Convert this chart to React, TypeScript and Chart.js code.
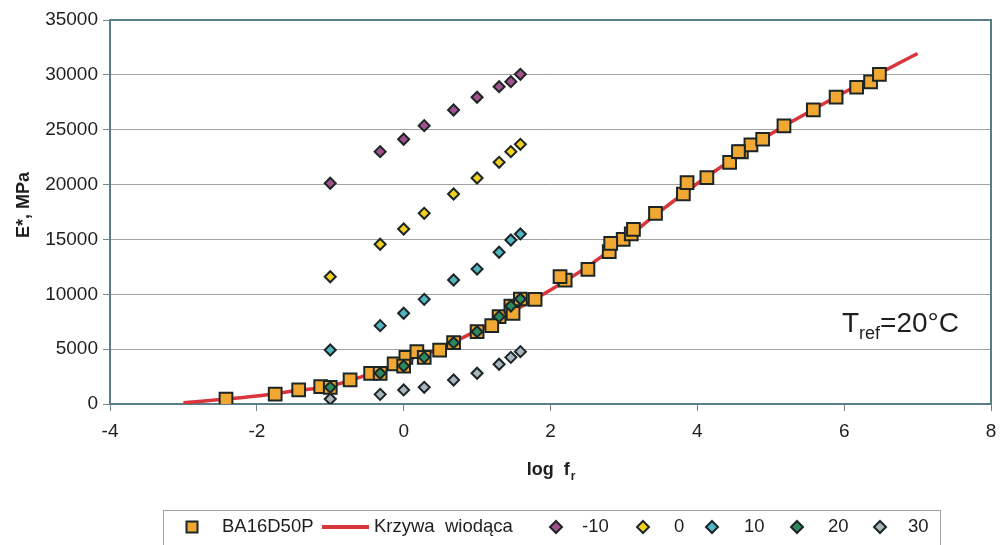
import React, { useEffect, useRef } from 'react';
import { Chart, registerables } from 'chart.js';

Chart.register(...registerables);

const FONT = '"Liberation Sans", Arial, sans-serif';
const TEXT = '#1e1e1e';
const EDGE = '#1c2626';

// log of test frequency for each temperature series
const logFreq = [-1, -0.32, 0, 0.28, 0.68, 1, 1.3, 1.46, 1.59];

// |E*| in MPa at each temperature
const tempMinus10 = [20120, 23000, 24130, 25370, 26800, 27960, 28920, 29380, 30050];
const temp0 = [11600, 14560, 15950, 17380, 19140, 20600, 22030, 23000, 23670];
const temp10 = [4920, 7140, 8270, 9540, 11300, 12300, 13830, 14950, 15500];
const temp20 = [1520, 2800, 3460, 4250, 5590, 6590, 7960, 8930, 9570];
const temp30 = [455, 880, 1280, 1520, 2190, 2800, 3620, 4250, 4770];

// shifted measurements for BA16D50P (reduced frequency)
const masterLogFr = [
  -2.42, -1.75, -1.43, -1.13, -0.73, -0.45, -0.13, 0.03, 0.18,
  -1, -0.32, 0, 0.28, 0.68, 1, 1.3, 1.46, 1.59,
  0.49, 1.2, 1.49, 1.79, 2.2, 2.51, 2.8, 2.99, 3.1,
  2.13, 2.82, 3.13, 3.43, 3.81, 4.13, 4.44, 4.6, 4.73,
  3.86, 4.56, 4.89, 5.18, 5.58, 5.89, 6.17, 6.36, 6.48,
];
const masterE = [
  455, 910, 1280, 1580, 2190, 2800, 3650, 4250, 4770,
  1520, 2800, 3460, 4250, 5590, 6590, 7960, 8930, 9570,
  4920, 7140, 8270, 9540, 11300, 12280, 13880, 15010, 15500,
  11600, 14650, 15920, 17380, 19140, 20630, 22030, 22970, 23610,
  20170, 23000, 24130, 25340, 26800, 27960, 28870, 29350, 30050,
];

// fitted master curve
const curveLogFr = [-3, -2.5, -2, -1.5, -1, -0.5, 0, 0.5, 1, 1.5, 2, 2.5, 3, 3.5, 4, 4.5, 5, 5.5, 6, 6.5, 7];
const curveE = [110, 400, 720, 1180, 1640, 2650, 3900, 5100, 6700, 8500, 10400, 12500, 14950, 17600, 20100, 22400, 24600, 26550, 28400, 30200, 31950];

const xRange = [-4, 8];
const xStep = 2;
const yRange = [0, 35000];
const yStep = 5000;

const ORANGE = '#f0a832';
const RED = '#d8363a';
const tempSeries = [
  { label: '-10', values: tempMinus10, color: '#a3508e' },
  { label: '0', values: temp0, color: '#f2d21e' },
  { label: '10', values: temp10, color: '#52b6c2' },
  { label: '20', values: temp20, color: '#2e8a5e' },
  { label: '30', values: temp30, color: '#a9b6bf' },
];

const zip = (xs: number[], ys: number[]) => xs.map((x, i) => ({ x, y: ys[i] }));

const framePlugin = {
  id: 'frame',
  beforeDatasetsDraw(chart: any) {
    const { ctx, chartArea: a } = chart;
    ctx.save();
    ctx.strokeStyle = '#5b7c89';
    ctx.lineWidth = 2;
    ctx.strokeRect(a.left, a.top, a.right - a.left, a.bottom - a.top);
    ctx.restore();
  },
};

function diamond(ctx: CanvasRenderingContext2D, cx: number, cy: number, r: number, fill: string) {
  ctx.beginPath();
  ctx.moveTo(cx, cy - r);
  ctx.lineTo(cx + r, cy);
  ctx.lineTo(cx, cy + r);
  ctx.lineTo(cx - r, cy);
  ctx.closePath();
  ctx.fillStyle = fill;
  ctx.fill();
  ctx.lineWidth = 2;
  ctx.strokeStyle = EDGE;
  ctx.stroke();
}

const textPlugin = {
  id: 'texts',
  afterDraw(chart: any) {
    const ctx: CanvasRenderingContext2D = chart.ctx;
    const a = chart.chartArea;
    ctx.save();
    ctx.fillStyle = TEXT;

    // y axis title
    ctx.save();
    ctx.translate(24, 205);
    ctx.rotate(-Math.PI / 2);
    ctx.font = `bold 18px ${FONT}`;
    ctx.textAlign = 'center';
    ctx.textBaseline = 'middle';
    ctx.fillText('E*, MPa', 0, 0);
    ctx.restore();

    // x axis title with subscript
    ctx.textBaseline = 'alphabetic';
    ctx.textAlign = 'left';
    ctx.font = `bold 18px ${FONT}`;
    const main = 'log  f';
    const wMain = ctx.measureText(main).width;
    ctx.font = `bold 12px ${FONT}`;
    const wSub = ctx.measureText('r').width;
    const cx = (a.left + a.right) / 2;
    const x0 = cx - (wMain + wSub) / 2;
    ctx.font = `bold 18px ${FONT}`;
    ctx.fillText(main, x0, 475);
    ctx.font = `bold 12px ${FONT}`;
    ctx.fillText('r', x0 + wMain + 1, 480);

    // reference temperature note
    let tx = 842;
    ctx.font = `28px ${FONT}`;
    ctx.fillText('T', tx, 332);
    tx += ctx.measureText('T').width;
    ctx.font = `18px ${FONT}`;
    ctx.fillText('ref', tx, 339);
    tx += ctx.measureText('ref').width;
    ctx.font = `28px ${FONT}`;
    ctx.fillText('=20°C', tx, 332);

    // legend
    ctx.strokeStyle = '#a0a0a0';
    ctx.lineWidth = 1;
    ctx.strokeRect(163.5, 510.5, 777, 60);
    const ly = 527;
    ctx.font = `18.5px ${FONT}`;
    ctx.textBaseline = 'middle';
    ctx.fillStyle = ORANGE;
    ctx.fillRect(186.5, ly - 5.5, 11, 11);
    ctx.strokeStyle = EDGE;
    ctx.lineWidth = 2;
    ctx.strokeRect(186.5, ly - 5.5, 11, 11);
    ctx.fillStyle = TEXT;
    ctx.fillText('BA16D50P', 222, ly);
    ctx.strokeStyle = RED;
    ctx.lineWidth = 4;
    ctx.beginPath();
    ctx.moveTo(322, ly);
    ctx.lineTo(369, ly);
    ctx.stroke();
    ctx.fillText('Krzywa  wiodąca', 374, ly);
    const dx = [556, 643, 712, 797, 880];
    const tx2 = [582, 674, 744, 828, 908];
    tempSeries.forEach((s, i) => {
      diamond(ctx, dx[i], ly, 6, s.color);
      ctx.fillStyle = TEXT;
      ctx.fillText(s.label, tx2[i], ly);
    });
    ctx.restore();
  },
};

export default function App() {
  const ref = useRef<HTMLCanvasElement | null>(null);

  useEffect(() => {
    if (!ref.current) return;
    const datasets: any[] = [
      {
        label: 'BA16D50P',
        data: zip(masterLogFr, masterE),
        pointStyle: 'rect',
        pointRadius: 9,
        backgroundColor: ORANGE,
        borderColor: EDGE,
        borderWidth: 2,
        order: 5,
      },
      {
        label: 'Krzywa wiodąca',
        data: zip(curveLogFr, curveE),
        showLine: true,
        pointRadius: 0,
        borderColor: RED,
        borderWidth: 3.5,
        tension: 0.35,
        order: 10,
      },
      ...tempSeries.map((s) => ({
        label: s.label,
        data: zip(logFreq, s.values),
        pointStyle: 'rectRot',
        pointRadius: 5.5,
        backgroundColor: s.color,
        borderColor: EDGE,
        borderWidth: 2,
        order: 1,
      })),
    ];

    const chart = new Chart(ref.current, {
      type: 'scatter',
      data: { datasets },
      options: {
        animation: false,
        responsive: false,
        devicePixelRatio: 1,
        events: [],
        layout: { padding: { left: 0, top: 20, right: 8, bottom: 0 } },
        plugins: { legend: { display: false }, tooltip: { enabled: false } },
        scales: {
          x: {
            type: 'linear',
            min: xRange[0],
            max: xRange[1],
            afterFit: (s: any) => {
              s.height = 141;
              s.paddingLeft = 0;
              s.paddingRight = 0;
            },
            ticks: {
              stepSize: xStep,
              padding: 9,
              color: TEXT,
              font: { family: FONT, size: 19 },
              callback: (v: any) => String(v),
            },
            grid: { drawOnChartArea: false, tickLength: 7, color: '#6d8894' },
            border: { display: false },
          },
          y: {
            type: 'linear',
            min: yRange[0],
            max: yRange[1],
            afterFit: (s: any) => {
              s.width = 110;
              s.paddingTop = 0;
              s.paddingBottom = 0;
            },
            ticks: {
              stepSize: yStep,
              padding: 5,
              color: TEXT,
              font: { family: FONT, size: 19 },
              callback: (v: any) => String(v),
            },
            grid: { color: '#a2a2a2', tickColor: '#6d8894', tickLength: 7 },
            border: { display: false },
          },
        },
      },
      plugins: [framePlugin, textPlugin],
    });
    return () => chart.destroy();
  }, []);

  return (
    <div style={{ position: 'fixed', left: 0, top: 0, width: 1002, height: 545, background: '#fff' }}>
      <canvas ref={ref} width={1002} height={545} style={{ display: 'block', width: 1002, height: 545 }} />
    </div>
  );
}
